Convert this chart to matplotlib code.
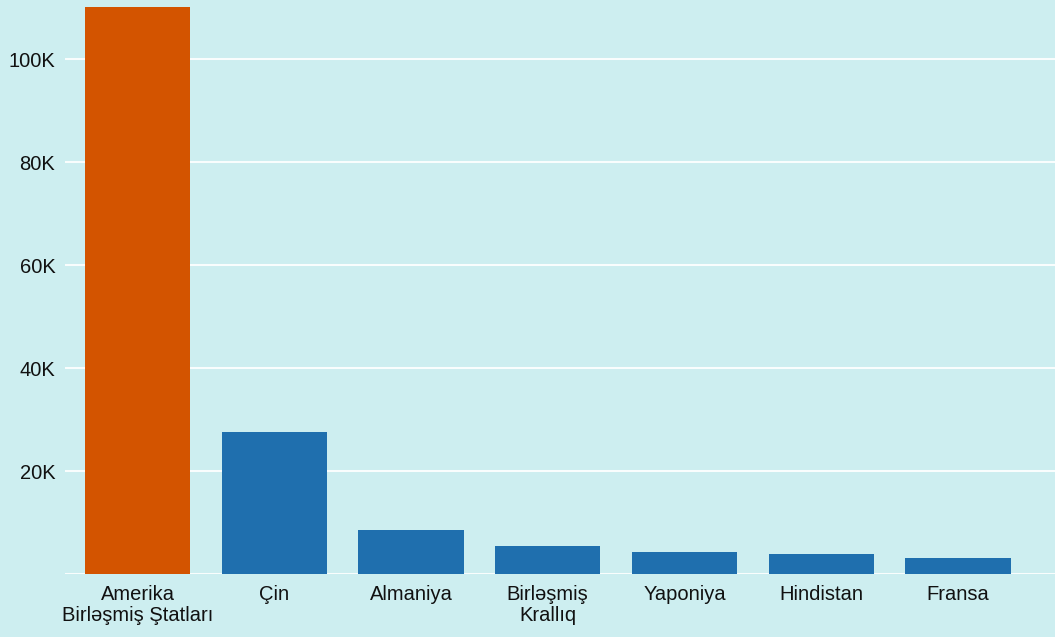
import matplotlib.pyplot as plt
from matplotlib.ticker import FuncFormatter

# countries and values
countries = ["Amerika\nBirləşmiş Ştatları", "Çin", "Almaniya", "Birləşmiş\nKrallıq",
             "Yaponiya", "Hindistan", "Fransa"]
values = [110100, 27600, 8500, 5400, 4300, 3900, 3100]
bar_colors = ["#d35400", "#1f6fae", "#1f6fae", "#1f6fae", "#1f6fae", "#1f6fae", "#1f6fae"]
y_ticks = [20000, 40000, 60000, 80000, 100000]

bg = "#cdeef0"
plt.rcParams['font.family'] = ['Liberation Sans', 'DejaVu Sans']

fig = plt.figure(figsize=(10.55, 6.37), dpi=100, facecolor=bg)
ax = fig.add_axes([65/1055, 1 - 574/637, (1055-65)/1055, 574/637])
ax.set_facecolor(bg)

ax.bar(range(len(countries)), values, width=0.77, color=bar_colors, zorder=3)

ax.set_xlim(-0.53, 6.71)
ax.set_ylim(0, 111500)
ax.set_yticks(y_ticks)
ax.yaxis.set_major_formatter(FuncFormatter(lambda v, p: "%dK" % (v / 1000)))
ax.set_xticks(range(len(countries)))
ax.set_xticklabels(countries, linespacing=1.1)
ax.tick_params(axis='both', length=0, labelsize=14.5, colors="#111111")
ax.tick_params(axis='y', pad=7)
ax.tick_params(axis='x', pad=8)
ax.grid(axis='y', color="white", linewidth=1.5, alpha=0.9, zorder=0)
ax.axhline(0, color="white", linewidth=1.5, alpha=0.9, zorder=1)
for s in ax.spines.values():
    s.set_visible(False)

fig.savefig("out.png", dpi=100, facecolor=bg)
